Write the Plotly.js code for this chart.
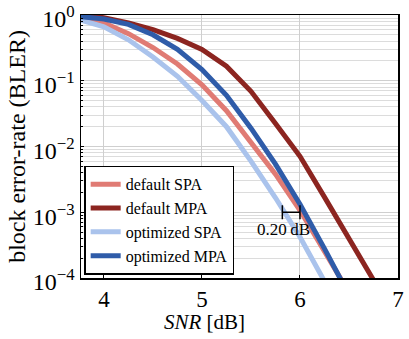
<!DOCTYPE html>
<html>
<head>
<meta charset="utf-8">
<script src="https://cdn.plot.ly/plotly-3.0.1.min.js"></script>
<style>
  html, body { margin: 0; padding: 0; background: #fff; }
  #plot { width: 409px; height: 339px; }
</style>
</head>
<body>
<div id="plot"></div>
<script>
// SNR in dB, BLER (log scale)
let snr = [3.75, 4.0, 4.25, 4.5, 4.75, 5.0, 5.25, 5.5, 5.75, 6.0, 6.25, 6.5, 6.75]

let defaultSPA = [0.89, 0.76, 0.52, 0.32, 0.18, 0.087, 0.035, 0.0112, 0.0038, 0.00107, 0.00026, 0.00006]
let defaultMPA = [1.0, 0.91, 0.76, 0.60, 0.44, 0.30, 0.166, 0.069, 0.0224, 0.0071, 0.0017, 0.0004, 0.000093]
let optimizedSPA = [0.85, 0.66, 0.42, 0.23, 0.117, 0.050, 0.020, 0.006, 0.00166, 0.00042, 0.000089]
let optimizedMPA = [0.95, 0.87, 0.72, 0.50, 0.30, 0.148, 0.060, 0.019, 0.0054, 0.00132, 0.00028, 0.000055]

// gap marker at BLER = 1e-3
let gapX = [5.82, 6.0]
let gapY = [1e-3, 1e-3]

let font = 'Liberation Serif'

let traces = [
    {x: snr, y: defaultSPA, name: 'default SPA', mode: 'lines', line: {color: '#e07b74', width: 5}},
    {x: snr, y: defaultMPA, name: 'default MPA', mode: 'lines', line: {color: '#8c2520', width: 5}},
    {x: snr, y: optimizedSPA, name: 'optimized SPA', mode: 'lines', line: {color: '#aac3ec', width: 5}},
    {x: snr, y: optimizedMPA, name: 'optimized MPA', mode: 'lines', line: {color: '#2f5ca9', width: 5}},
    {x: gapX, y: gapY, mode: 'lines+markers', showlegend: false, hoverinfo: 'skip',
     line: {color: '#000', width: 1.5},
     marker: {symbol: 'line-ns-open', size: 10, line: {color: '#000', width: 1.5}}}
]

let minorVals = []
for (let k = -4; k < 0; k++) {
    for (let m = 2; m <= 9; m++) minorVals.push(m * Math.pow(10, k))
}

let layout = {
    width: 409,
    height: 339,
    margin: {l: 81, r: 11, t: 15, b: 61},
    paper_bgcolor: '#fff',
    plot_bgcolor: '#fff',
    font: {family: font, size: 22, color: '#000'},
    showlegend: true,
    legend: {
        x: 0.01, y: 0.012, xanchor: 'left', yanchor: 'bottom',
        bgcolor: '#fff', bordercolor: '#000', borderwidth: 1.5,
        font: {family: font, size: 16},
        tracegroupgap: 0
    },
    xaxis: {
        range: [3.766, 7],
        tickvals: [4, 5, 6, 7],
        ticks: 'inside', ticklen: 3, tickcolor: '#000',
        showgrid: true, gridcolor: '#cfcfcf', gridwidth: 1,
        showline: true, linecolor: '#000', linewidth: 1.5, mirror: true,
        zeroline: false,
        tickfont: {family: font, size: 23}
    },
    yaxis: {
        type: 'log',
        range: [-4, 0],
        tickvals: [1e-4, 1e-3, 1e-2, 1e-1, 1],
        ticktext: ['10<sup>−4</sup>', '10<sup>−3</sup>', '10<sup>−2</sup>', '10<sup>−1</sup>', '10<sup>0</sup>'],
        ticklabeloverflow: 'allow',
        ticklabelshift: 4,
        ticks: 'inside', ticklen: 3, tickcolor: '#000',
        showgrid: true, gridcolor: '#cfcfcf', gridwidth: 1,
        minor: {tickmode: 'array', tickvals: minorVals, showgrid: true, gridcolor: '#dcdcdc', gridwidth: 1, ticks: 'inside', ticklen: 2, tickcolor: '#000'},
        showline: true, linecolor: '#000', linewidth: 1.5, mirror: true,
        zeroline: false,
        tickfont: {family: font, size: 24},
        title: {text: 'block error-rate (BLER)', font: {family: font, size: 24}, standoff: 0}
    },
    annotations: [
        {x: 5.83, y: -3, xref: 'x', yref: 'y', text: '0.20\u2009dB', showarrow: false,
         yanchor: 'top', yshift: -6, font: {family: font, size: 17}},
        {x: 0.39, y: -0.167, xref: 'paper', yref: 'paper', text: '<i>SNR</i> [dB]', showarrow: false,
         xanchor: 'center', yanchor: 'middle', font: {family: font, size: 21}}
    ]
}

Plotly.newPlot('plot', traces, layout, {displayModeBar: false, staticPlot: true})
</script>
</body>
</html>
